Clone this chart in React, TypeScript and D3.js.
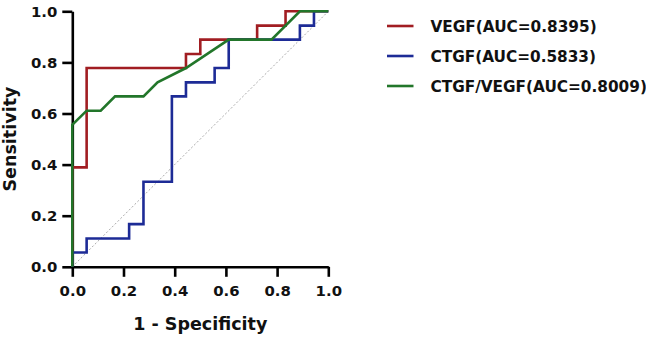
import React, { useEffect, useRef } from 'react'
import * as d3 from 'd3'

// ROC points (1 - specificity, sensitivity)
const vegfX = [0, 0, 0.056, 0.056, 0.444, 0.444, 0.5, 0.5, 0.722, 0.722, 0.833, 0.833, 1]
const vegfY = [0, 0.389, 0.389, 0.778, 0.778, 0.833, 0.833, 0.889, 0.889, 0.944, 0.944, 1, 1]

const ctgfX = [0, 0, 0.056, 0.056, 0.222, 0.222, 0.278, 0.278, 0.389, 0.389, 0.444, 0.444, 0.556, 0.556, 0.611, 0.611, 0.889, 0.889, 0.944, 0.944, 1]
const ctgfY = [0, 0.056, 0.056, 0.111, 0.111, 0.167, 0.167, 0.333, 0.333, 0.667, 0.667, 0.722, 0.722, 0.778, 0.778, 0.889, 0.889, 0.944, 0.944, 1, 1]

const ratioX = [0, 0, 0.056, 0.111, 0.167, 0.278, 0.333, 0.444, 0.611, 0.778, 0.889, 1]
const ratioY = [0, 0.556, 0.611, 0.611, 0.667, 0.667, 0.722, 0.778, 0.889, 0.889, 1, 1]

const seriesNames = ['VEGF(AUC=0.8395)', 'CTGF(AUC=0.5833)', 'CTGF/VEGF(AUC=0.8009)']
const seriesColors = ['#a11d22', '#1d2b96', '#22762a']
const tickValues = [0, 0.2, 0.4, 0.6, 0.8, 1.0]

const W = 646
const H = 339
const FONT = '"DejaVu Sans", sans-serif'

export default function App() {
  const ref = useRef<SVGSVGElement>(null)

  useEffect(() => {
    const svg = d3.select(ref.current)
    svg.selectAll('*').remove()

    const left = 72.3, right = 328.3, top = 11.3, bottom = 266.8

    const x = d3.scaleLinear().domain([0, 1]).range([left, right])
    const y = d3.scaleLinear().domain([0, 1]).range([bottom, top])

    svg.append('rect').attr('width', W).attr('height', H).attr('fill', '#fff')

    // chance line
    svg.append('line')
      .attr('x1', x(0)).attr('y1', y(0))
      .attr('x2', x(1)).attr('y2', y(1))
      .attr('stroke', '#aaa')
      .attr('stroke-width', 1)
      .attr('stroke-dasharray', '2,2')

    // axes
    const yAxis = svg.append('g')
      .attr('transform', 'translate(' + left + ',0)')
      .call(d3.axisLeft(y).tickValues(tickValues).tickFormat(d3.format('.1f')).tickSize(10).tickPadding(5).tickSizeOuter(0))
    const xAxis = svg.append('g')
      .attr('transform', 'translate(0,' + bottom + ')')
      .call(d3.axisBottom(x).tickValues(tickValues).tickFormat(d3.format('.1f')).tickSize(10).tickPadding(9).tickSizeOuter(0))

    for (const ax of [yAxis, xAxis]) {
      ax.select('.domain').attr('stroke', '#000').attr('stroke-width', 2.6)
      ax.selectAll('.tick line').attr('stroke', '#000').attr('stroke-width', 2.6)
      ax.selectAll('.tick text')
        .attr('fill', '#111')
        .style('font-family', FONT)
        .style('font-weight', 'bold')
        .style('font-size', '14.9px')
    }

    // axis titles
    svg.append('text')
      .attr('transform', 'translate(16,' + (top + bottom) / 2 + ') rotate(-90)')
      .attr('text-anchor', 'middle')
      .style('font-family', FONT)
      .style('font-weight', 'bold')
      .style('font-size', '17.5px')
      .attr('fill', '#111')
      .text('Sensitivity')
    svg.append('text')
      .attr('x', (left + right) / 2)
      .attr('y', 329.5)
      .attr('text-anchor', 'middle')
      .style('font-family', FONT)
      .style('font-weight', 'bold')
      .style('font-size', '17.5px')
      .attr('fill', '#111')
      .text('1 - Specificity')

    // curves
    const line = d3.line<[number, number]>()
      .x(d => x(d[0]))
      .y(d => y(d[1]))

    const curves: [number, number][][] = [
      vegfX.map((v, i) => [v, vegfY[i]]),
      ctgfX.map((v, i) => [v, ctgfY[i]]),
      ratioX.map((v, i) => [v, ratioY[i]]),
    ]
    curves.forEach((pts, i) => {
      svg.append('path')
        .datum(pts)
        .attr('d', line)
        .attr('fill', 'none')
        .attr('stroke', seriesColors[i])
        .attr('stroke-width', 2.6)
        .attr('stroke-linejoin', 'miter')
    })

    // legend
    const lg = svg.append('g')
    seriesNames.forEach((name, i) => {
      const ly = 26 + i * 30
      lg.append('line')
        .attr('x1', 387).attr('x2', 413.5)
        .attr('y1', ly).attr('y2', ly)
        .attr('stroke', seriesColors[i])
        .attr('stroke-width', 2.6)
      lg.append('text')
        .attr('x', 430.5)
        .attr('y', ly + 6.2)
        .style('font-family', FONT)
        .style('font-weight', 'bold')
        .style('font-size', '15.3px')
        .attr('fill', '#111')
        .text(name)
    })
  }, [])

  return (
    <svg
      ref={ref}
      width={W}
      height={H}
      style={{ position: 'absolute', left: 0, top: 0, display: 'block' }}
    />
  )
}
